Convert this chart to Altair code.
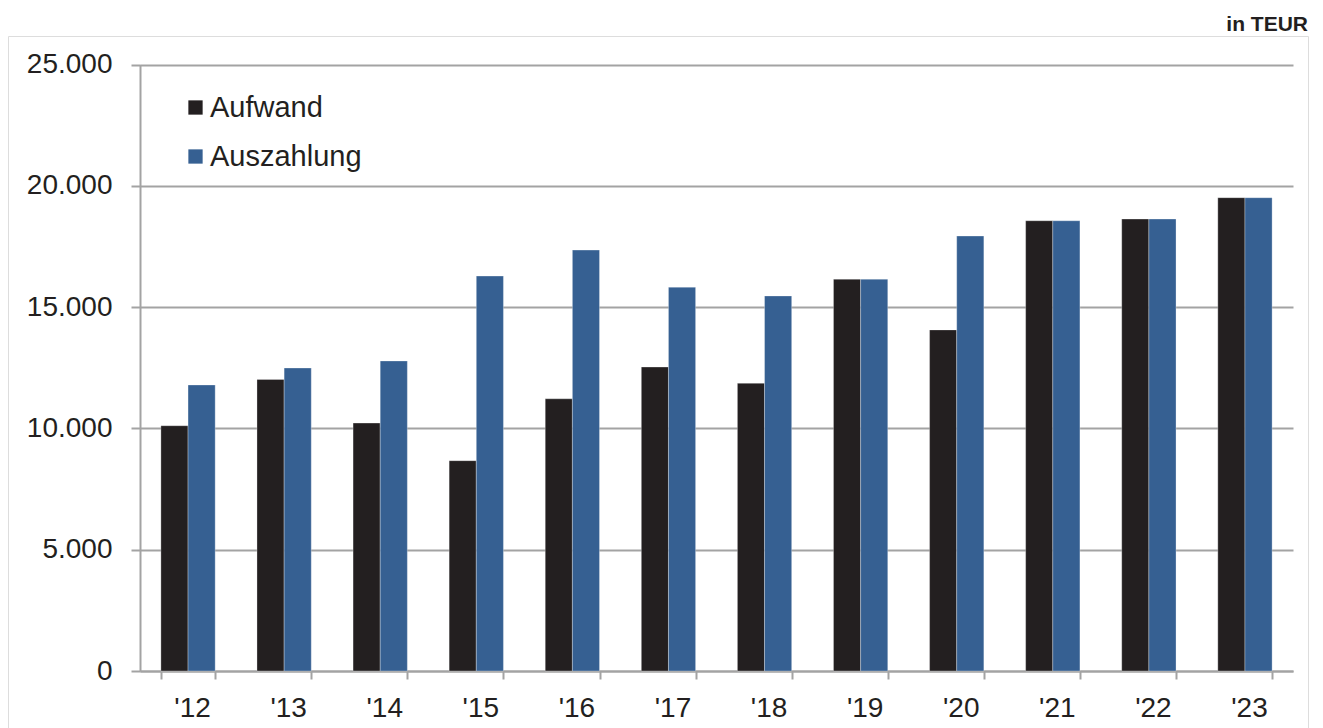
import altair as alt
import pandas as pd

years = ["'12", "'13", "'14", "'15", "'16", "'17", "'18", "'19", "'20", "'21", "'22", "'23"]
aufwand = [10110, 12020, 10220, 8670, 11220, 12530, 11860, 16150, 14060, 18560, 18630, 19510]
auszahlung = [11790, 12490, 12780, 16280, 17350, 15820, 15460, 16150, 17930, 18560, 18630, 19510]
series = ["Aufwand", "Auszahlung"]
colors = ["#231f20", "#366092"]
y_ticks = [0, 5000, 10000, 15000, 20000, 25000]

rows = []
for i, yr in enumerate(years):
    rows.append({"Jahr": yr, "Serie": series[0], "Wert": aufwand[i]})
    rows.append({"Jahr": yr, "Serie": series[1], "Wert": auszahlung[i]})
df = pd.DataFrame(rows)

W, H = 1300, 720
GRAY = "#a3a3a3"
TXT = "#231f20"
FONT = "Liberation Sans"

bars = alt.Chart(df).mark_bar(stroke="#ffffff", strokeWidth=0.5, strokeOpacity=0.6).encode(
    x=alt.X(
        "Jahr:N",
        sort=years,
        scale=alt.Scale(range=[132, 1285], paddingInner=0.435, paddingOuter=0.2175),
        axis=alt.Axis(
            title=None,
            orient="bottom",
            offset=-(H - 635),
            labelAngle=0,
            labelFontSize=28,
            labelFont=FONT,
            labelColor=TXT,
            labelBaseline="alphabetic",
            labelPadding=37,
            labelOffset=4,
            tickBand="extent",
            tickSize=8,
            tickColor=GRAY,
            tickWidth=2,
            domainColor=GRAY,
            domainWidth=2,
            grid=False,
        ),
    ),
    xOffset=alt.XOffset("Serie:N", sort=series),
    y=alt.Y(
        "Wert:Q",
        scale=alt.Scale(domain=[0, 25000], range=[635, 28.5], nice=False),
        axis=alt.Axis(
            title=None,
            orient="left",
            offset=-132,
            values=y_ticks,
            format=",.0f",
            labelExpr="replace(datum.label, ',', '.')",
            labelFontSize=28,
            labelFont=FONT,
            labelColor=TXT,
            labelPadding=19,
            tickSize=9,
            tickColor=GRAY,
            tickWidth=2,
            domainColor=GRAY,
            domainWidth=2,
            grid=True,
            gridColor=GRAY,
            gridWidth=2,
        ),
    ),
    color=alt.Color(
        "Serie:N",
        sort=series,
        scale=alt.Scale(domain=series, range=colors),
        legend=alt.Legend(
            title=None,
            orient="none",
            legendX=173,
            legendY=57,
            symbolType="square",
            symbolSize=204,
            symbolStrokeWidth=0,
            symbolOpacity=1,
            labelFontSize=29,
            labelFont=FONT,
            labelColor=TXT,
            labelOffset=0,
            rowPadding=19,
            padding=0,
        ),
    ),
)

chart = bars.properties(
    width=W,
    height=H,
    title=alt.TitleParams(
        "in TEUR",
        anchor="end",
        fontSize=21,
        fontWeight="bold",
        font=FONT,
        color=TXT,
        offset=6,
        dy=22,
        baseline="alphabetic",
    ),
    autosize=alt.AutoSizeParams(type="none"),
    padding={"left": 0, "top": 28, "right": 1, "bottom": 0},
).configure_view(
    stroke=GRAY,
    strokeWidth=2,
).configure(background="white")

chart.save("out.html", embed_options={"renderer": "svg", "actions": False})
